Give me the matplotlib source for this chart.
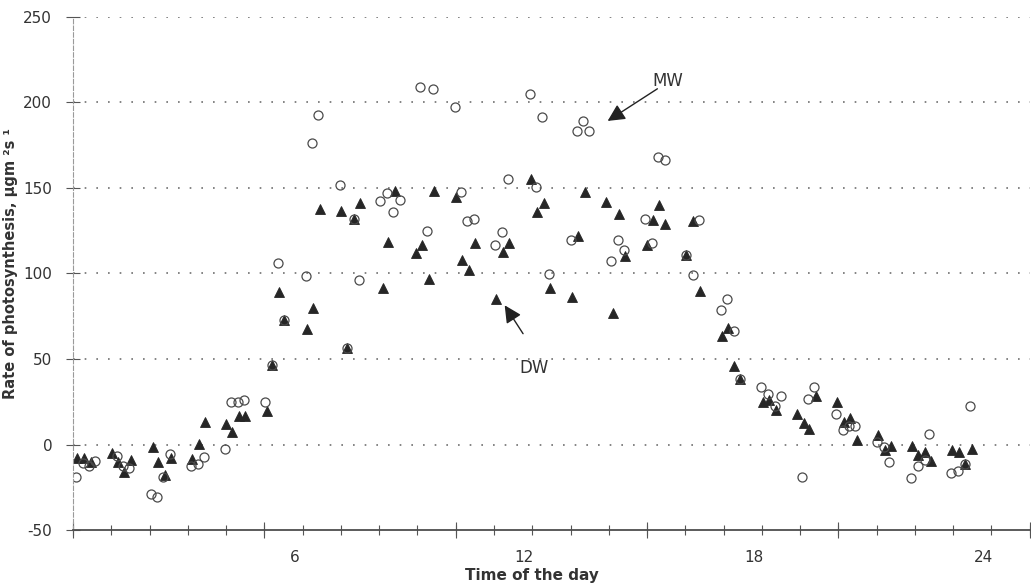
import matplotlib
matplotlib.use("Agg")
import matplotlib.pyplot as plt
import matplotlib.transforms as mtransforms
import numpy as np

# MW (open circles): hour of day, photosynthesis rate
mw_time = [0.08, 0.25, 0.43, 0.58, 1.16, 1.31, 1.47, 2.03, 2.19, 2.36, 2.53,
           3.08, 3.26, 3.42, 3.96, 4.13, 4.30, 4.46, 5.03, 5.20, 5.35, 5.51,
           6.09, 6.24, 6.41, 6.97, 7.16, 7.34, 7.48, 8.03, 8.21, 8.36, 8.55,
           9.08, 9.25, 9.41, 9.97, 10.13, 10.30, 10.48, 11.03, 11.20, 11.37,
           11.93, 12.11, 12.26, 12.44, 13.00, 13.17, 13.32, 13.48, 14.07,
           14.23, 14.39, 14.95, 15.13, 15.29, 15.46, 16.02, 16.19, 16.35,
           16.92, 17.09, 17.27, 17.42, 17.98, 18.16, 18.34, 18.49, 19.05,
           19.21, 19.37, 19.94, 20.11, 20.27, 20.44, 21.01, 21.18, 21.33,
           21.90, 22.07, 22.25, 22.38, 22.94, 23.12, 23.30, 23.45]
mw_rate = [-19.1, -10.7, -12.3, -9.8, -7.0, -12.3, -13.9, -28.9, -30.5, -19.1, -5.5,
           -12.5, -11.5, -7.4, -2.7, 25.0, 24.6, 26.0, 24.8, 46.7, 105.9, 72.6,
           98.4, 176.3, 192.9, 151.7, 56.6, 131.6, 96.1, 142.5, 146.9, 135.9, 143.1,
           209.3, 125.0, 208.0, 197.4, 147.6, 130.5, 132.0, 116.8, 124.0, 155.0,
           204.9, 150.6, 191.7, 99.6, 119.3, 183.5, 189.0, 183.5, 107.4,
           119.5, 114.0, 132.0, 117.9, 168.0, 166.4, 110.7, 99.0, 131.2,
           78.9, 84.9, 66.2, 38.1, 33.8, 29.5, 22.3, 28.1, -19.1,
           26.5, 33.8, 17.6, 8.6, 11.0, 11.0, 1.4, -1.2, -10.5,
           -19.3, -12.7, -8.8, 5.9, -16.4, -15.6, -11.3, 22.4]

# DW (filled triangles)
dw_time = [0.11, 0.29, 0.46, 1.01, 1.17, 1.34, 1.51, 2.08, 2.23, 2.40, 2.56,
           3.12, 3.28, 3.44, 3.99, 4.16, 4.33, 4.50, 5.06, 5.20, 5.39, 5.51,
           6.12, 6.27, 6.45, 7.01, 7.16, 7.34, 7.51, 8.09, 8.24, 8.41, 8.96,
           9.11, 9.29, 9.44, 10.00, 10.16, 10.34, 10.50, 11.06, 11.24, 11.39,
           11.97, 12.13, 12.31, 12.47, 13.04, 13.20, 13.37, 13.92, 14.10,
           14.26, 14.42, 14.99, 15.15, 15.31, 15.48, 16.02, 16.21, 16.39,
           16.95, 17.11, 17.28, 17.42, 18.02, 18.18, 18.36, 18.91, 19.09,
           19.24, 19.41, 19.97, 20.14, 20.31, 20.48, 21.04, 21.21, 21.38,
           21.92, 22.09, 22.26, 22.43, 22.98, 23.15, 23.30, 23.48]
dw_rate = [-8.0, -8.0, -10.4, -5.1, -10.0, -15.8, -9.0, -1.2, -10.3, -17.6, -7.8,
           -8.6, 0.2, 13.1, 11.7, 7.2, 16.4, 16.8, 19.5, 46.7, 89.2, 72.6,
           67.5, 80.0, 137.8, 136.7, 56.6, 131.6, 141.4, 91.4, 118.5, 148.2, 111.7,
           116.6, 96.8, 148.0, 144.5, 107.8, 102.3, 117.7, 84.9, 112.3, 117.7,
           155.2, 135.9, 141.0, 91.4, 86.0, 122.0, 147.4, 141.6, 76.9,
           134.7, 110.1, 116.4, 131.2, 140.0, 128.9, 110.7, 130.6, 89.5,
           63.7, 68.1, 46.1, 38.1, 24.8, 25.8, 19.9, 18.0, 12.7,
           9.2, 28.3, 24.8, 13.1, 15.4, 2.9, 5.7, -3.5, -0.8,
           -0.8, -6.0, -4.5, -9.4, -3.5, -4.1, -11.3, -2.7]

hour_labels = [6, 12, 18, 24]
rate_ticks = [-50, 0, 50, 100, 150, 200, 250]

plt.rcParams["font.family"] = ["DejaVu Sans"]
plt.rcParams["axes.unicode_minus"] = False
ink = "#333333"

fig = plt.figure(figsize=(10.31, 5.85), dpi=100)
ax = fig.add_axes([0.0708, 0.094, 0.928, 0.877])

# dotted horizontal guides
for r in rate_ticks[1:]:
    ax.axhline(r, color="#6f6f6f", lw=1.2, ls=(0, (1, 6)), zorder=0)

ax.plot(dw_time, dw_rate, ls="none", marker="^", ms=6.5, color="#262626",
        markeredgewidth=0.6)
ax.plot(mw_time, mw_rate, ls="none", marker="o", ms=6.5, fillstyle="none",
        markeredgecolor="#4a4a4a", markeredgewidth=0.9)

ax.set_xlim(0, 25)
ax.set_ylim(-50, 250)

# axes styling
ax.spines["top"].set_visible(False)
ax.spines["right"].set_visible(False)
ax.spines["left"].set_color("#9a9a9a")
ax.spines["left"].set_linestyle((0, (4, 2)))
ax.spines["left"].set_linewidth(0.8)
ax.spines["bottom"].set_color("#4d4d4d")
ax.spines["bottom"].set_linewidth(1.3)

ax.set_yticks(rate_ticks)
ax.tick_params(axis="y", direction="inout", length=10, width=0.8,
               color="#555555", labelsize=11, labelcolor=ink, pad=10)
ax.set_xticks(hour_labels)
ax.set_xticks(np.arange(0, 26), minor=True)
ax.tick_params(axis="x", which="both", direction="inout", length=7, width=0.8,
               color="#555555", labelsize=11, labelcolor=ink, pad=11)

# hour labels sit a little left of their ticks
shift = mtransforms.ScaledTranslation(-6 / 72, 0, fig.dpi_scale_trans)
for lbl in ax.get_xticklabels():
    lbl.set_transform(lbl.get_transform() + shift)

# longer ticks every 5 hours
sec = ax.secondary_xaxis("bottom")
sec.set_xticks(np.arange(0, 26, 5))
sec.set_xticklabels([])
sec.tick_params(direction="inout", length=12, width=0.8, color="#555555")
sec.spines["bottom"].set_visible(False)

ax.set_xlabel("Time of the day", fontsize=11, fontweight="bold", color=ink)
ax.xaxis.set_label_coords(0.48, -0.074)
ax.set_ylabel("Rate of photosynthesis, \u00b5gm \u00b2s \u00b9", fontsize=10.5,
              fontweight="bold", color=ink)
ax.yaxis.set_label_coords(-0.058, 0.52)

# series labels with arrows
arrow = dict(arrowstyle="-|>", mutation_scale=26, color="#222222", lw=1.0,
             shrinkA=0, shrinkB=0)
ax.annotate("", xy=(13.97, 189.2), xytext=(15.27, 208.0), arrowprops=arrow)
ax.text(15.53, 212.8, "MW", fontsize=12, color=ink, ha="center", va="center")
ax.annotate("", xy=(11.28, 81.4), xytext=(11.76, 64.8), arrowprops=arrow)
ax.text(12.06, 45.0, "DW", fontsize=12, color=ink, ha="center", va="center")

fig.savefig("out.png", dpi=100)
